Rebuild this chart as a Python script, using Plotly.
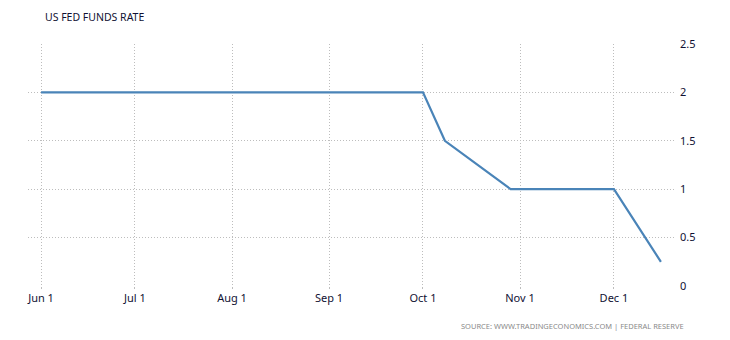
import plotly.graph_objects as go

dates = ["2008-06-01", "2008-10-01", "2008-10-08", "2008-10-29", "2008-12-01", "2008-12-16"]
rates = [2.0, 2.0, 1.5, 1.0, 1.0, 0.25]

tick_dates = ["2008-06-01", "2008-07-01", "2008-08-01", "2008-09-01", "2008-10-01", "2008-11-01", "2008-12-01"]
tick_labels = ["Jun 1", "Jul 1", "Aug 1", "Sep 1", "Oct 1", "Nov 1", "Dec 1"]
y_ticks = [0, 0.5, 1, 1.5, 2, 2.5]
y_labels = ["0", "0.5", "1", "1.5", "2", "2.5"]

title_text = "US FED FUNDS RATE"
source_text = "SOURCE: WWW.TRADINGECONOMICS.COM | FEDERAL RESERVE"

fig = go.Figure()
fig.add_trace(go.Scatter(x=dates, y=rates, mode="lines",
                         line=dict(color="#4a84b8", width=2.2),
                         hoverinfo="skip"))

font_family = "Noto Sans, Open Sans, sans-serif"
grid_c = "#bdbdbd"
fig.update_layout(
    width=730, height=340,
    margin=dict(l=28, r=55, t=44, b=54),
    paper_bgcolor="white", plot_bgcolor="white",
    showlegend=False,
    font=dict(family=font_family, size=11, color="#111133"),
    xaxis=dict(
        type="date",
        range=["2008-05-27 20:00", "2008-12-20 12:00"],
        tickvals=tick_dates, ticktext=tick_labels,
        showgrid=True, gridcolor=grid_c, griddash="1px,2px", gridwidth=1,
        ticks="outside", ticklen=2, tickcolor=grid_c,
        showline=False, zeroline=False,
        tickfont=dict(size=11, color="#111133"),
    ),
    yaxis=dict(
        side="right", range=[0, 2.5],
        tickvals=y_ticks, ticktext=y_labels,
        showgrid=True, gridcolor=grid_c, griddash="1px,2px", gridwidth=1,
        showline=False, zeroline=False, ticks="",
        ticklabelstandoff=4,
        tickfont=dict(size=11, color="#111133"),
    ),
    annotations=[
        dict(text=title_text, xref="paper", yref="paper",
             x=(43 - 28) / 647, y=1 + 27 / 242, xanchor="left", yanchor="middle",
             showarrow=False, font=dict(size=10.5, color="#111133", family=font_family)),
        dict(text=source_text, xref="paper", yref="paper",
             x=(686 - 28) / 647, y=-40 / 242, xanchor="right", yanchor="middle",
             showarrow=False, font=dict(size=7.5, color="#8a8a8a", family=font_family)),
    ],
)

fig.write_html("out.html")
